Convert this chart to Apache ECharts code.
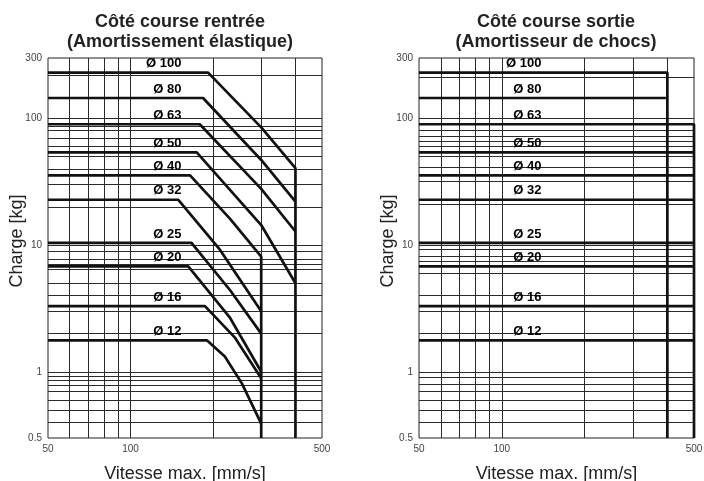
<!DOCTYPE html>
<html>
<head>
<meta charset="utf-8">
<script src="https://cdn.jsdelivr.net/npm/echarts@6/dist/echarts.min.js"></script>
<style>
html, body { margin: 0; padding: 0; background: #fff; }
#main { width: 704px; height: 481px; }
</style>
</head>
<body>
<div id="main"></div>
<script>
const lg = Math.log10

// diamètres et charge max (kg) du palier horizontal
const diameters = ['Ø 100', 'Ø 80', 'Ø 63', 'Ø 50', 'Ø 40', 'Ø 32', 'Ø 25', 'Ø 20', 'Ø 16', 'Ø 12']
const loads = [230, 145, 90, 54, 35.5, 22.8, 10.4, 6.8, 3.3, 1.77]

// côté course rentrée : vitesse du coude puis points de la courbe [vitesse, charge]
const kneeIn = [192, 184, 179, 174.5, 165, 149.5, 167, 162.5, 187, 190]
const curveIn = [
    [[300, 85], [400, 40.5], [400, 0.3]],
    [[300, 47], [400, 22]],
    [[300, 27.8], [400, 12.8]],
    [[300, 14.4], [400, 5]],
    [[231, 16.1], [300, 8.1], [300, 0.3]],
    [[212, 9.2], [300, 3.0]],
    [[231, 4.4], [300, 2.0]],
    [[231, 2.66], [300, 1.0]],
    [[241, 1.85], [300, 0.89]],
    [[221, 1.32], [255, 0.81], [300, 0.39]]
]

// côté course sortie : vitesse de fin du palier, et descente verticale ou non
const endOut = [400, 395, 500, 500, 500, 500, 500, 500, 500, 500]
const dropOut = [true, false, true, false, false, false, false, false, false, false]

// axes
const speedMin = 50, speedMax = 500
const loadMin = 0.3, loadMax = 300
const xLabels = [50, 100, 500]
const xGridLines = [60, 70, 80, 90, 100, 200, 300, 400]
const yLabelValues = [0.3, 1, 10, 100, 300]
const yLabelTexts = ['0.5', '1', '10', '100', '300']   // tel qu'imprimé sur le graphique
const yGridIn = [0.4, 0.5, 0.6, 0.7, 0.78, 0.85, 0.92, 1, 2, 3, 4, 5, 6.4, 7, 7.7, 9, 10, 20, 30, 40, 50, 60, 70, 80, 87, 100, 220]
const yGridOut = [0.4, 0.5, 0.6, 0.7, 0.8, 0.9, 1, 2, 3, 4, 6, 7.5, 8.2, 9.2, 10, 21, 32, 41, 50, 60, 66, 72, 81, 100, 210]

const FONT = 'Liberation Sans, Arial, Helvetica, sans-serif'
const INK = '#111'

let myChart = echarts.init(document.getElementById('main'), null, { renderer: 'canvas' })

function xAxisFor(gi) {
    return {
        type: 'value', gridIndex: gi,
        min: lg(speedMin), max: lg(speedMax),
        name: 'Vitesse max. [mm/s]', nameLocation: 'middle', nameGap: 27,
        nameMoveOverlap: false,
        nameTextStyle: { fontSize: 18, color: '#222', fontFamily: FONT },
        axisLine: { show: false },
        axisTick: { show: false, customValues: xGridLines.map(lg) },
        axisLabel: {
            customValues: xLabels.map(lg),
            formatter: v => String(Math.round(Math.pow(10, v))),
            fontSize: 10, color: '#444', margin: 6, fontFamily: FONT
        },
        splitLine: { show: true, lineStyle: { color: '#2a2a2a', width: 1 } }
    }
}

function yAxisFor(gi, gridVals) {
    return {
        type: 'value', gridIndex: gi,
        min: lg(loadMin), max: lg(loadMax),
        name: 'Charge [kg]', nameLocation: 'middle', nameGap: 22,
        nameMoveOverlap: false,
        nameTextStyle: { fontSize: 18, color: '#222', fontFamily: FONT, padding: [0, 0, 0, 14] },
        axisLine: { show: false },
        axisTick: { show: false, customValues: gridVals.map(lg) },
        axisLabel: {
            customValues: yLabelValues.map(lg),
            formatter: v => {
                let best = 0
                yLabelValues.forEach((y, i) => {
                    if (Math.abs(lg(y) - v) < Math.abs(lg(yLabelValues[best]) - v)) best = i
                })
                return yLabelTexts[best]
            },
            fontSize: 10, color: '#444', margin: 6, fontFamily: FONT
        },
        splitLine: { show: true, lineStyle: { color: '#2a2a2a', width: 1 } }
    }
}

function curveSeries(gi, pts) {
    return {
        type: 'line', xAxisIndex: gi, yAxisIndex: gi,
        data: pts.map(p => [lg(p[0]), lg(p[1])]),
        symbol: 'none', clip: false, silent: true,
        lineStyle: { color: INK, width: 2.7 },
        z: 3
    }
}

function labelSeries(gi, atSpeed) {
    return {
        type: 'scatter', xAxisIndex: gi, yAxisIndex: gi,
        data: loads.map((l, i) => ({ name: diameters[i], value: [lg(atSpeed), lg(l)] })),
        symbolSize: 1, itemStyle: { color: 'rgba(0,0,0,0)' }, silent: true,
        label: {
            show: true, position: 'left', distance: 0, offset: [0, -9],
            formatter: '{b}', fontSize: 13, fontWeight: 'bold', color: '#000',
            textBorderWidth: 0, opacity: 1, fontFamily: FONT
        },
        z: 4
    }
}

let series = []
loads.forEach((l, i) => {
    series.push(curveSeries(0, [[speedMin, l], [kneeIn[i], l]].concat(curveIn[i])))
    let pts = [[speedMin, l], [endOut[i], l]]
    if (dropOut[i]) pts.push([endOut[i], loadMin])
    series.push(curveSeries(1, pts))
})
series.push(labelSeries(0, 154))
series.push(labelSeries(1, 140))

let options = {
    animation: false,
    backgroundColor: '#fff',
    textStyle: { fontFamily: FONT },
    title: [
        {
            text: 'Côté course rentrée\n(Amortissement élastique)',
            left: 175, top: 7, textAlign: 'center',
            textStyle: { fontSize: 18, fontWeight: 'bold', lineHeight: 20, color: '#222', fontFamily: FONT }
        },
        {
            text: 'Côté course sortie\n(Amortisseur de chocs)',
            left: 551, top: 7, textAlign: 'center',
            textStyle: { fontSize: 18, fontWeight: 'bold', lineHeight: 20, color: '#222', fontFamily: FONT }
        }
    ],
    grid: [
        { left: 48, right: 382, top: 58, bottom: 43, show: true, borderColor: '#222', borderWidth: 1, outerBoundsMode: 'none' },
        { left: 419, right: 10, top: 58, bottom: 43, show: true, borderColor: '#222', borderWidth: 1, outerBoundsMode: 'none' }
    ],
    xAxis: [xAxisFor(0), xAxisFor(1)],
    yAxis: [yAxisFor(0, yGridIn), yAxisFor(1, yGridOut)],
    series: series
}

myChart.setOption(options)
</script>
</body>
</html>
